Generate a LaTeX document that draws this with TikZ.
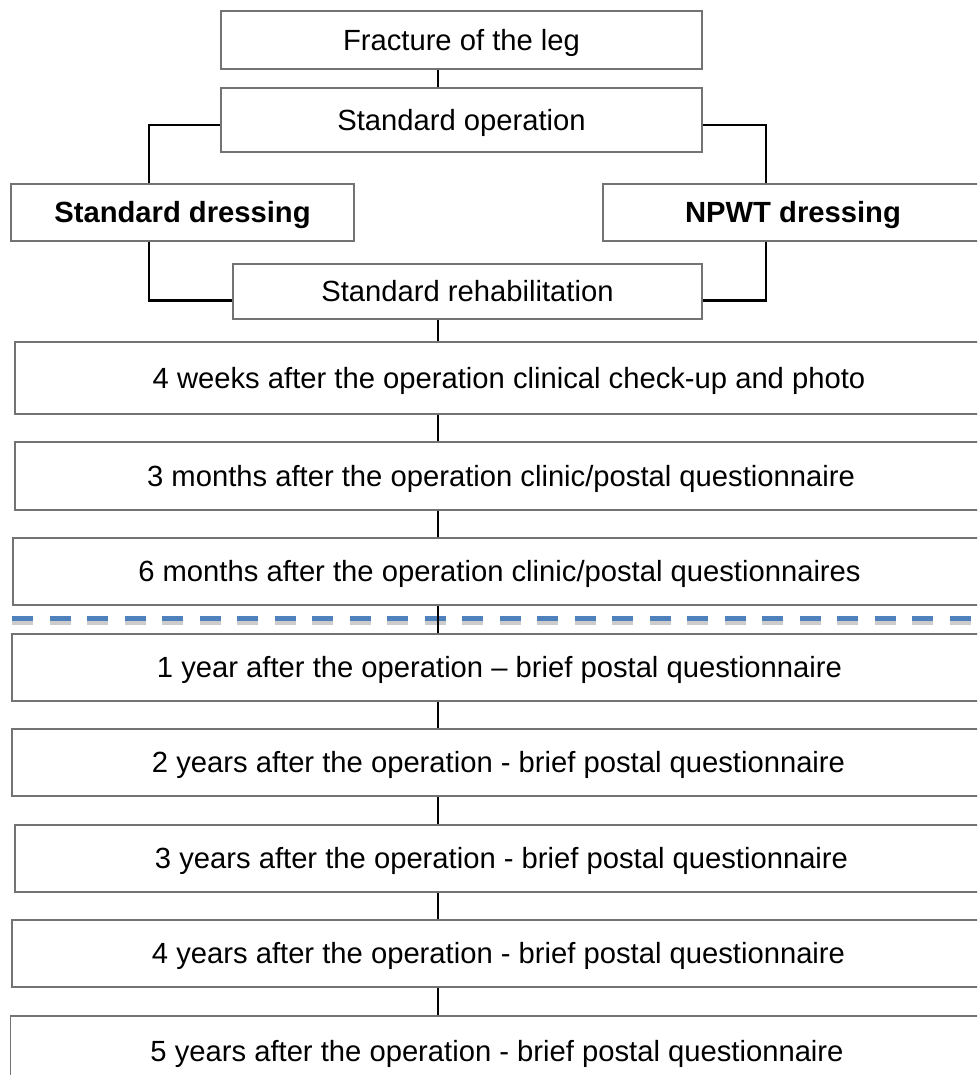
\documentclass[tikz,border=0pt]{standalone}
\usepackage{fontspec}
\setmainfont{Liberation Sans}
\definecolor{sepblue}{HTML}{4F81BD}
\begin{document}
\begin{tikzpicture}[x=1pt,y=-1pt,
  box/.style={draw=black!55, line width=1.3pt, fill=white, inner sep=0pt,
              font=\fontsize{29.2}{34}\selectfont, text height=20.8pt, text depth=0pt, anchor=center},
  conn/.style={draw=black, line width=2.6pt},
  sepline/.style={line width=5.5pt, dash pattern=on 21pt off 16.5pt}
]
\useasboundingbox (0,0) rectangle (977,1075);
\clip (0,0) rectangle (977,1075);

% named helper coordinates for connector columns
\coordinate (cx) at (438,0);
\coordinate (lx) at (149,0);
\coordinate (rx) at (766,0);

% boxes
\node[box, minimum width=481pt, minimum height=58pt] (frac) at (461.5,40) {Fracture of the leg};
\node[box, minimum width=481pt, minimum height=64pt] (op) at (461.5,120) {Standard operation};
\node[box, minimum width=343pt, minimum height=57pt] (sd) at (182.5,212.5) {\bfseries Standard dressing};
\node[box, minimum width=380pt, minimum height=57pt] (np) at (793,212.5) {\bfseries NPWT dressing};
\node[box, minimum width=469pt, minimum height=55pt] (rh) at (467.5,291.5) {Standard rehabilitation};
\node[box, minimum width=988pt, minimum height=72pt] (w4) at (509,378) {4 weeks after the operation clinical check-up and photo};
\node[box, minimum width=972pt, minimum height=68pt] (m3) at (501,476) {3 months after the operation clinic/postal questionnaire};
\node[box, minimum width=973pt, minimum height=67pt] (m6) at (499.5,571.5) {6 months after the operation clinic/postal questionnaires};
\node[box, minimum width=975pt, minimum height=67pt] (y1) at (499.5,667.5) {1 year after the operation \textendash{} brief postal questionnaire};
\node[box, minimum width=973pt, minimum height=67pt] (y2) at (498.5,762.5) {2 years after the operation - brief postal questionnaire};
\node[box, minimum width=973pt, minimum height=67pt] (y3) at (501.5,858.5) {3 years after the operation - brief postal questionnaire};
\node[box, minimum width=973pt, minimum height=67pt] (y4) at (498.5,953.5) {4 years after the operation - brief postal questionnaire};
\node[box, minimum width=973pt, minimum height=70pt] (y5) at (497,1051) {5 years after the operation - brief postal questionnaire};

% separator line with soft shadow
\draw[sepline, draw=black, opacity=0.2] (12,622) -- (990,622);
\draw[sepline, draw=sepblue] (12,618.5) -- (990,618.5);

% branch connectors
\draw[conn] ([yshift=-5pt]op.west) -| (lx |- sd.north);
\draw[conn] ([yshift=-5pt]op.east) -| (rx |- np.north);
\draw[conn] (lx |- sd.south) |- ([yshift=-9pt]rh.west);
\draw[conn] (rx |- np.south) |- ([yshift=-9pt]rh.east);

% central connectors
\draw[conn] (frac.south -| cx) -- (op.north -| cx);
\draw[conn] (rh.south -| cx) -- (w4.north -| cx);
\draw[conn] (w4.south -| cx) -- (m3.north -| cx);
\draw[conn] (m3.south -| cx) -- (m6.north -| cx);
\draw[conn] (m6.south -| cx) -- (y1.north -| cx);
\draw[conn] (y1.south -| cx) -- (y2.north -| cx);
\draw[conn] (y2.south -| cx) -- (y3.north -| cx);
\draw[conn] (y3.south -| cx) -- (y4.north -| cx);
\draw[conn] (y4.south -| cx) -- (y5.north -| cx);
\end{tikzpicture}
\end{document}
